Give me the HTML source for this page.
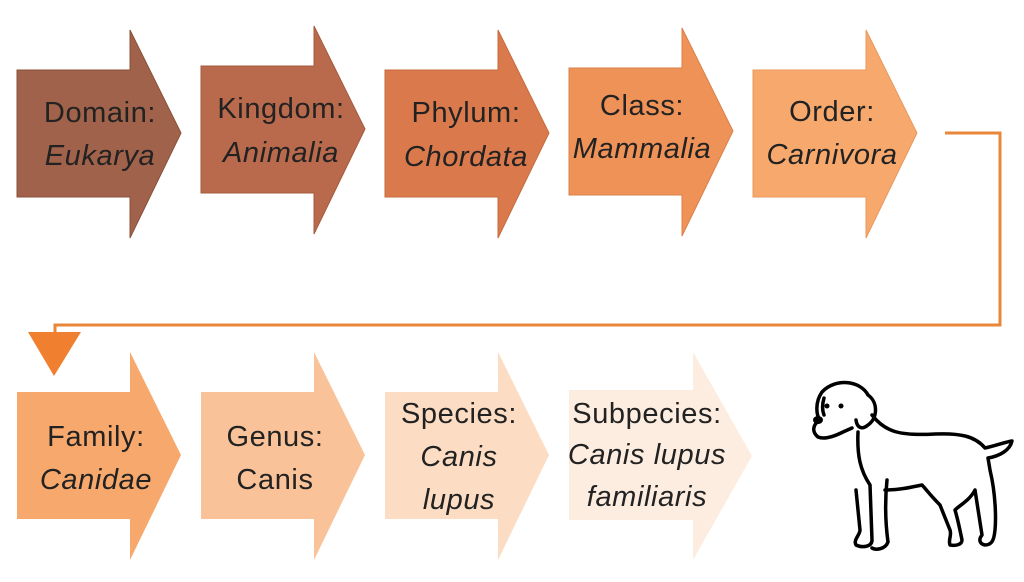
<!DOCTYPE html>
<html><head><style>body{margin:0;background:#fff}svg{display:block}text{font-family:"Liberation Sans",sans-serif;font-size:29px;letter-spacing:0.6px;fill:#222;text-anchor:middle}.i{font-style:italic}</style></head><body>
<svg width="1024" height="582" viewBox="0 0 1024 582">
<defs><path id="a" d="M0,40 H113 V0 L164,103 L113,208 V167 H0 Z"/></defs>
<use href="#a" x="17" y="30" fill="#A0624A" stroke="#8a5038" stroke-width="1"/>
<use href="#a" x="201" y="26" fill="#BA6A4C" stroke="#a55a3c" stroke-width="1"/>
<use href="#a" x="385" y="30" fill="#DA7A4C" stroke="#c46a3c" stroke-width="1"/>
<use href="#a" x="569" y="28" fill="#EE9257" stroke="#da8048" stroke-width="1"/>
<use href="#a" x="753" y="30" fill="#F7A86C" stroke="#e8985c" stroke-width="1"/>
<use href="#a" x="17" y="352" fill="#F7A86C"/>
<use href="#a" x="201" y="352" fill="#F9C298"/>
<use href="#a" x="385" y="352" fill="#FCDDC4"/>
<path d="M569,390 H693 V352 L752,456 L693,560 V520 H569 Z" fill="#FDEDE0"/>
<path d="M945,133 H1000 V325 H55 V334" fill="none" stroke="#E8873A" stroke-width="3"/>
<path d="M28,332 H81 L54,376 Z" fill="#F07F2F"/>
<text x="100" y="122">Domain:</text><text class="i" x="100" y="165">Eukarya</text>
<text x="281" y="118">Kingdom:</text><text class="i" x="281" y="162">Animalia</text>
<text x="466" y="122">Phylum:</text><text class="i" x="466" y="166">Chordata</text>
<text x="642" y="115">Class:</text><text class="i" x="642" y="158">Mammalia</text>
<text x="832" y="121">Order:</text><text class="i" x="832" y="164">Carnivora</text>
<text x="96" y="446">Family:</text><text class="i" x="96" y="489">Canidae</text>
<text x="275" y="446">Genus:</text><text x="275" y="489">Canis</text>
<text x="459" y="423">Species:</text><text class="i" x="459" y="466">Canis</text><text class="i" x="459" y="509">lupus</text>
<text x="647" y="423">Subpecies:</text><text class="i" x="647" y="464">Canis lupus</text><text class="i" x="647" y="506">familiaris</text>
<g fill="none" stroke="#000" stroke-width="3.5" stroke-linecap="round" stroke-linejoin="round">
<path d="M822,392 C835,378 860,380 868,395 C878,402 878,418 868,425 C862,430 857,428 856,420 M822,392 C815,402 816,415 820,420 C812,425 812,432 818,437 C825,440 835,436 843,432 L852,428"/>
<path d="M824,398 C822,405 822,410 824,415"/>
<path d="M872,415 C885,432 900,436 935,434 C960,433 975,436 985,448 C995,446 1005,442 1012,441 C1010,450 1000,456 988,458 L990,470 C996,495 996,520 995,530 C994,540 992,545 985,545 C980,544 978,540 982,535 L975,490 C970,500 960,505 955,510 C958,520 960,530 962,540 C962,545 955,546 950,545 C948,540 952,535 950,530 L940,505 C930,495 925,488 922,485 C912,487 900,490 885,490 M858,432 C857,455 860,470 870,485 L872,540 C872,547 862,548 856,545 C853,540 860,535 860,530 L856,490 M887,480 C885,500 885,520 888,542 C885,550 875,550 872,548"/>
</g>
<circle cx="827" cy="406" r="2.5"/><circle cx="841" cy="406" r="2.5"/><ellipse cx="818" cy="420" rx="5" ry="4"/>
</svg>
</body></html>
